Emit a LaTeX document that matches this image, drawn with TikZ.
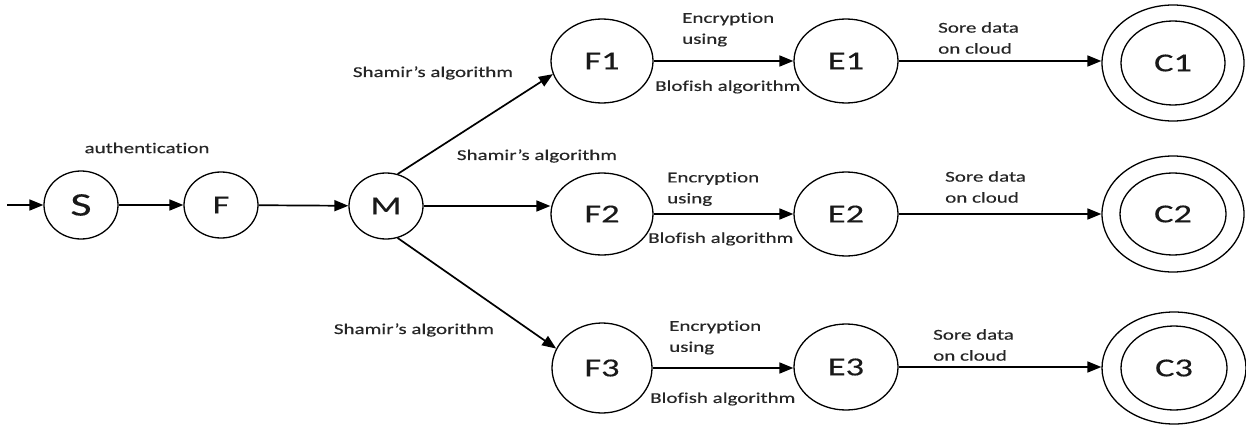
\documentclass[tikz,border=0pt]{standalone}
\usepackage{fontspec}
\setmainfont[FakeStretch=1.4, FakeBold=0.3, Ligatures={NoCommon}]{Carlito}
\usetikzlibrary{arrows.meta,shapes.geometric}
\begin{document}
\begin{tikzpicture}[x=1pt,y=-1pt,
  state/.style={draw, ellipse, line width=1.3pt, inner sep=0pt, text=black!90,
    font=\fontsize{26}{28}\selectfont},
  arr/.style={-{Triangle[length=14pt,width=11pt]}, line width=1.7pt},
  lbl/.style={inner sep=0pt, text=black!85, font=\fontsize{15}{21}\selectfont},
  lbll/.style={lbl, anchor=west, align=left}]
\fill[white] (0,0) rectangle (1246,425);
\useasboundingbox (0,0) rectangle (1246,425);

% nodes
\coordinate (in) at (7,205);
\node[state, minimum width=74pt, minimum height=68pt, font=\fontsize{33}{35}\selectfont] (S) at (81,205) {S};
\node[state, minimum width=74pt, minimum height=66pt] (F) at (221,205) {F};
\node[state, minimum width=74pt, minimum height=66pt] (M) at (386,206) {M};

\node[state, minimum width=102pt, minimum height=84pt] (F1) at (602,61) {F1};
\node[state, minimum width=104pt, minimum height=84pt] (E1) at (846,61) {E1};
\node[state, minimum width=142pt, minimum height=116pt] (C1) at (1173,63) {C1};
\draw[line width=1.3pt] (C1.center) ellipse [x radius=52pt, y radius=42pt];

\node[state, minimum width=102pt, minimum height=82pt] (F2) at (602,214) {F2};
\node[state, minimum width=104pt, minimum height=84pt] (E2) at (846,214) {E2};
\node[state, minimum width=142pt, minimum height=116pt] (C2) at (1173,214) {C2};
\draw[line width=1.3pt] (C2.center) ellipse [x radius=53pt, y radius=41pt];

\node[state, minimum width=100pt, minimum height=90pt] (F3) at (602,368) {F3};
\node[state, minimum width=104pt, minimum height=86pt] (E3) at (846,367) {E3};
\node[state, minimum width=144pt, minimum height=112pt] (C3) at (1174,368) {C3};
\draw[line width=1.3pt] (C3.center) ellipse [x radius=53pt, y radius=42pt];

% connectors
\draw[arr] (in) -- (S);
\draw[arr] (S) -- (F);
\draw[arr] (F) -- (M);
\draw[arr] (M.70) -- (F1.195);
\draw[arr] (M.east) -- (M.east -| F2.west);
\draw[arr] (M.290) -- (F3.157);

\draw[arr] (F1) -- (E1);
\draw[arr] (E1.east) -- (E1.east -| C1.west);
\draw[arr] (F2) -- (E2);
\draw[arr] (E2) -- (C2);
\draw[arr] (F3.east) -- (F3.east -| E3.west);
\draw[arr] (E3.east) -- (E3.east -| C3.west);

% labels
\node[lbl] (la) at (147,148) {authentication};
\node[lbl] (sh1) at (433,73) {Shamir's algorithm};
\node[lbl] (sh2) at (537,156) {Shamir's algorithm};
\node[lbl] (sh3) at (414,330) {Shamir's algorithm};

\node[lbll] (en1) at (682,29.5) {Encryption\\using};
\node[lbll] (en2) at (667,189) {Encryption\\using};
\node[lbll] (en3) at (669,337.5) {Encryption\\using};

\node[lbll] (bl1) at (655,87) {Blofish algorithm};
\node[lbll] (bl2) at (648,239) {Blofish algorithm};
\node[lbll] (bl3) at (650,399) {Blofish algorithm};

\node[lbll] (so1) at (938,38) {Sore data\\on cloud};
\node[lbll] (so2) at (945,187) {Sore data\\on cloud};
\node[lbll] (so3) at (933,345) {Sore data\\on cloud};
\end{tikzpicture}
\end{document}
